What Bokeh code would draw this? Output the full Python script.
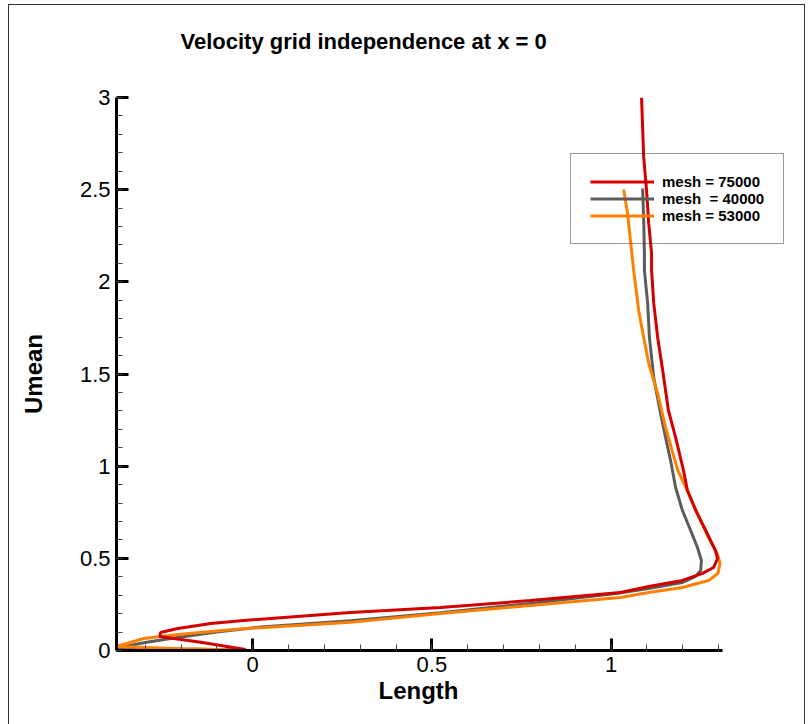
from bokeh.plotting import figure
from bokeh.models import Range1d, FixedTicker, Legend, LegendItem, InlineStyleSheet, Title
from bokeh.embed import file_html
from bokeh.resources import INLINE

# ---- data (Length, Umean) ----
red_len = [-0.020, -0.145, -0.259, -0.257, -0.209, -0.117, -0.025, 0.022, 0.273, 0.524,
           0.775, 1.026, 1.105, 1.199, 1.255, 1.286, 1.297, 1.291, 1.264, 1.236, 1.213,
           1.202, 1.180, 1.160, 1.144, 1.130, 1.119, 1.113, 1.113, 1.105, 1.099, 1.091, 1.085]
red_u = [0.005, 0.045, 0.076, 0.098, 0.119, 0.146, 0.163, 0.170, 0.206, 0.233,
         0.271, 0.315, 0.347, 0.380, 0.418, 0.450, 0.499, 0.543, 0.651, 0.760, 0.868,
         0.977, 1.156, 1.302, 1.519, 1.698, 1.883, 2.062, 2.154, 2.317, 2.496, 2.675, 3.0]

gray_len = [-0.020, -0.200, -0.377, -0.300, -0.229, -0.100, 0.022, 0.273, 0.524, 0.775,
            1.013, 1.105, 1.199, 1.236, 1.250, 1.252, 1.241, 1.222, 1.199, 1.180, 1.166,
            1.152, 1.138, 1.119, 1.107, 1.102, 1.093, 1.093, 1.091, 1.088]
gray_u = [0.003, 0.008, 0.014, 0.043, 0.065, 0.100, 0.128, 0.162, 0.205, 0.255,
          0.309, 0.336, 0.369, 0.402, 0.434, 0.488, 0.559, 0.651, 0.760, 0.884, 1.031,
          1.156, 1.286, 1.481, 1.698, 1.883, 2.062, 2.154, 2.333, 2.507]

orange_len = [-0.020, -0.200, -0.380, -0.304, -0.209, -0.053, 0.022, 0.273, 0.524, 0.775,
              1.026, 1.105, 1.199, 1.272, 1.298, 1.304, 1.296, 1.272, 1.241, 1.213, 1.186,
              1.152, 1.130, 1.105, 1.091, 1.077, 1.063, 1.054, 1.046, 1.035]
orange_u = [0.003, 0.010, 0.022, 0.065, 0.087, 0.114, 0.124, 0.153, 0.201, 0.244,
            0.288, 0.315, 0.342, 0.380, 0.418, 0.472, 0.526, 0.613, 0.743, 0.868, 0.977,
            1.210, 1.394, 1.557, 1.698, 1.845, 2.062, 2.225, 2.371, 2.501]

series_labels = ["mesh = 75000", "mesh \u00a0= 40000", "mesh = 53000"]
series_colors = ["#d40000", "#5c5c5c", "#ff8000"]

y_major = [0, 0.5, 1, 1.5, 2, 2.5, 3]
y_major_labels = ["0", "0.5", "1", "1.5", "2", "2.5", "3"]
y_minor = [i / 10 for i in range(0, 31)]
x_major = [0, 0.5, 1]
x_major_labels = ["0", "0.5", "1"]
x_minor = [i / 10 for i in range(-3, 14)]
x_axis_span = (-0.38, 1.311)

FONT = "Liberation Sans"

p = figure(width=809, height=724, output_backend="svg", toolbar_location=None,
           x_range=Range1d(-0.38, 1.5285), y_range=Range1d(0, 3),
           min_border_left=116, min_border_right=9, min_border_top=97, min_border_bottom=74,
           background_fill_color="white", border_fill_color="white")
p.outline_line_color = None
p.grid.visible = False

# title: a blank spacer next to the frame, then the real title above it
spacer = Title(text=" ", text_font=FONT, text_font_size="2px", standoff=40)
main_title = Title(text="Velocity grid independence at x = 0", align="left", offset=64,
                   standoff=0, text_font=FONT, text_font_size="22px",
                   text_font_style="bold", text_color="black")
p.add_layout(spacer, "above")
p.add_layout(main_title, "above")

for ax, maj, labs, mnr in ((p.xaxis[0], x_major, x_major_labels, x_minor),
                           (p.yaxis[0], y_major, y_major_labels, y_minor)):
    ax.ticker = FixedTicker(ticks=maj, minor_ticks=mnr)
    ax.major_label_overrides = {v: s for v, s in zip(maj, labs)}
    ax.axis_line_width = 3
    ax.axis_line_color = "black"
    ax.major_tick_in = 12
    ax.major_tick_out = 0
    ax.major_tick_line_width = 3
    ax.major_tick_line_color = "black"
    ax.minor_tick_in = 6
    ax.minor_tick_out = 0
    ax.minor_tick_line_width = 1
    ax.minor_tick_line_color = "#444444"
    ax.major_label_text_font = FONT
    ax.major_label_text_font_size = "22px"
    ax.major_label_text_color = "black"
    ax.axis_label_text_font = FONT
    ax.axis_label_text_font_size = "24px"
    ax.axis_label_text_font_style = "bold"
    ax.axis_label_text_color = "black"

p.xaxis.bounds = x_axis_span
p.yaxis.axis_label = "Umean"
p.xaxis.major_label_standoff = 6
p.yaxis.major_label_standoff = 6
p.yaxis.axis_label_standoff = 30

# x-axis title, centred under the drawn axis span
x_title = Title(text="Length", align="left", offset=262, standoff=0,
                text_font=FONT, text_font_size="24px", text_font_style="bold",
                text_color="black")
p.add_layout(x_title, "below")

r_gray = p.line(gray_len, gray_u, line_color=series_colors[1], line_width=3)
r_orange = p.line(orange_len, orange_u, line_color=series_colors[2], line_width=3)
r_red = p.line(red_len, red_u, line_color=series_colors[0], line_width=3)

legend = Legend(items=[LegendItem(label=series_labels[0], renderers=[r_red]),
                       LegendItem(label=series_labels[1], renderers=[r_gray]),
                       LegendItem(label=series_labels[2], renderers=[r_orange])],
                location=(454, 406), orientation="vertical",
                glyph_width=64, glyph_height=17, label_height=17, spacing=0,
                label_standoff=8, padding=19, margin=0,
                border_line_color="#333333", border_line_width=1,
                background_fill_color="white", background_fill_alpha=0.0,
                label_text_font=FONT, label_text_font_size="15px",
                label_text_font_style="bold", label_text_color="black")
p.add_layout(legend)

p.stylesheets = [InlineStyleSheet(css=":host { position: relative; } "
                                  ":host::after { content: ''; position: absolute; left: 8px; top: 4px; "
                                  "right: 4px; bottom: 0px; border: 1px solid #333333; border-bottom: none; "
                                  "pointer-events: none; }")]

open("out.html", "w").write(file_html(p, INLINE))
